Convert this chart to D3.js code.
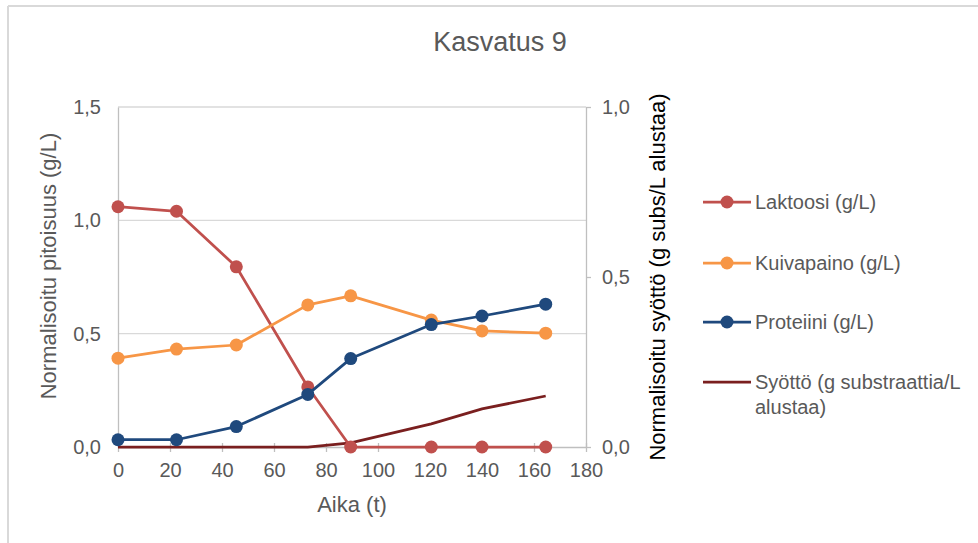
<!DOCTYPE html>
<html><head><meta charset="utf-8">
<script src="https://cdn.jsdelivr.net/npm/d3@7"></script>
<style>
html,body{margin:0;padding:0;background:#fff;}
svg{display:block;font-family:"Liberation Sans",Arial,sans-serif;}
</style></head>
<body>
<svg id="c" width="978" height="543"></svg>
<script>
const times = [0, 22.5, 45.5, 73, 89.5, 120.5, 140, 164.5];
const laktoosi = [1.06, 1.04, 0.795, 0.265, 0.0, 0.0, 0.0, 0.0];
const kuivapaino = [0.392, 0.432, 0.45, 0.627, 0.667, 0.56, 0.512, 0.502];
const proteiini = [0.032, 0.032, 0.09, 0.232, 0.39, 0.54, 0.578, 0.63];
const syotto = [0, 0, 0, 0, 0.012, 0.068, 0.112, 0.15];
const xTicks = [0, 20, 40, 60, 80, 100, 120, 140, 160, 180];
const yLeftTicks = [0, 0.5, 1.0, 1.5];
const yRightTicks = [0, 0.5, 1.0];
const seriesNames = ["Laktoosi (g/L)", "Kuivapaino (g/L)", "Proteiini (g/L)", "Syöttö (g substraattia/L alustaa)"];
const seriesColors = ["#C0504D", "#F79646", "#1F497D", "#7A1F1F"];

const svg = d3.select("#c");
const fmt = d => d3.format(".1f")(d).replace(".", ",");
const gray = "#595959";

// border
svg.append("line").attr("x1", 8).attr("x2", 978).attr("y1", 6).attr("y2", 6).attr("stroke", "#d9d9d9").attr("stroke-width", 2);
svg.append("line").attr("x1", 8).attr("x2", 8).attr("y1", 6).attr("y2", 543).attr("stroke", "#d9d9d9").attr("stroke-width", 2);

const x = d3.scaleLinear().domain([0, 180]).range([118, 586]);
const yL = d3.scaleLinear().domain([0, 1.5]).range([447, 107]);
const yR = d3.scaleLinear().domain([0, 1.0]).range([447, 107]);

// gridlines
svg.append("g").selectAll("line").data(yLeftTicks.filter(d => d > 0)).join("line")
  .attr("x1", 118).attr("x2", 586).attr("y1", d => yL(d)).attr("y2", d => yL(d))
  .attr("stroke", "#d9d9d9").attr("stroke-width", 1.3);

// axes
const styleAxis = g => {
  g.selectAll(".domain").attr("stroke", "#bfbfbf").attr("stroke-width", 1.3);
  g.selectAll(".tick line").attr("stroke", "#bfbfbf").attr("stroke-width", 1.3);
  g.selectAll(".tick text").attr("fill", gray).attr("font-size", 20).attr("font-family", "Liberation Sans, Arial, sans-serif");
};
const gx = svg.append("g").attr("transform", "translate(0,447)")
  .call(d3.axisBottom(x).tickValues(xTicks).tickFormat(d3.format("d")).tickSize(5).tickSizeOuter(0).tickPadding(11));
styleAxis(gx);
gx.selectAll(".tick line").attr("y1", -4);
const gl = svg.append("g").attr("transform", "translate(118,0)")
  .call(d3.axisLeft(yL).tickValues(yLeftTicks).tickFormat(fmt).tickSize(0).tickPadding(17));
styleAxis(gl);
const gr = svg.append("g").attr("transform", "translate(586,0)")
  .call(d3.axisRight(yR).tickValues(yRightTicks).tickFormat(fmt).tickSize(5).tickSizeOuter(0).tickPadding(11));
styleAxis(gr);

// titles
svg.append("text").attr("x", 500).attr("y", 51).attr("text-anchor", "middle")
  .attr("font-size", 27).attr("fill", gray).text("Kasvatus 9");
svg.append("text").attr("x", 352).attr("y", 512).attr("text-anchor", "middle")
  .attr("font-size", 22).attr("fill", gray).text("Aika (t)");
svg.append("text").attr("transform", "translate(56,266) rotate(-90)").attr("text-anchor", "middle")
  .attr("font-size", 22).attr("fill", gray).text("Normalisoitu pitoisuus (g/L)");
svg.append("text").attr("transform", "translate(665,277) rotate(-90)").attr("text-anchor", "middle")
  .attr("font-size", 22).attr("fill", "#000").text("Normalisoitu syöttö (g subs/L alustaa)");

// series
const data = [laktoosi, kuivapaino, proteiini];
const lineL = d3.line().x((d, i) => x(times[i])).y(d => yL(d));
const lineR = d3.line().x((d, i) => x(times[i])).y(d => yR(d));

svg.append("path").datum(syotto).attr("d", lineR).attr("fill", "none")
  .attr("stroke", seriesColors[3]).attr("stroke-width", 2.75);

data.forEach((arr, si) => {
  svg.append("path").datum(arr).attr("d", lineL).attr("fill", "none")
    .attr("stroke", seriesColors[si]).attr("stroke-width", 2.75).attr("stroke-linejoin", "round");
  svg.append("g").selectAll("circle").data(arr).join("circle")
    .attr("cx", (d, i) => x(times[i])).attr("cy", d => yL(d)).attr("r", 6.5)
    .attr("fill", seriesColors[si]);
});

// legend
const ly = [202, 263, 322, 382];
seriesNames.forEach((name, i) => {
  const g = svg.append("g").attr("transform", `translate(703,${ly[i]})`);
  g.append("line").attr("x1", 0).attr("x2", 48).attr("y1", 0).attr("y2", 0)
    .attr("stroke", seriesColors[i]).attr("stroke-width", 2.75);
  if (i < 3) g.append("circle").attr("cx", 24).attr("cy", 0).attr("r", 6.5).attr("fill", seriesColors[i]);
  const t = g.append("text").attr("x", 52).attr("y", 7).attr("font-size", 20).attr("fill", gray);
  if (i === 3) {
    t.append("tspan").attr("x", 52).text("Syöttö (g substraattia/L");
    t.append("tspan").attr("x", 52).attr("dy", 25).text("alustaa)");
  } else t.text(name);
});
</script>
</body></html>
